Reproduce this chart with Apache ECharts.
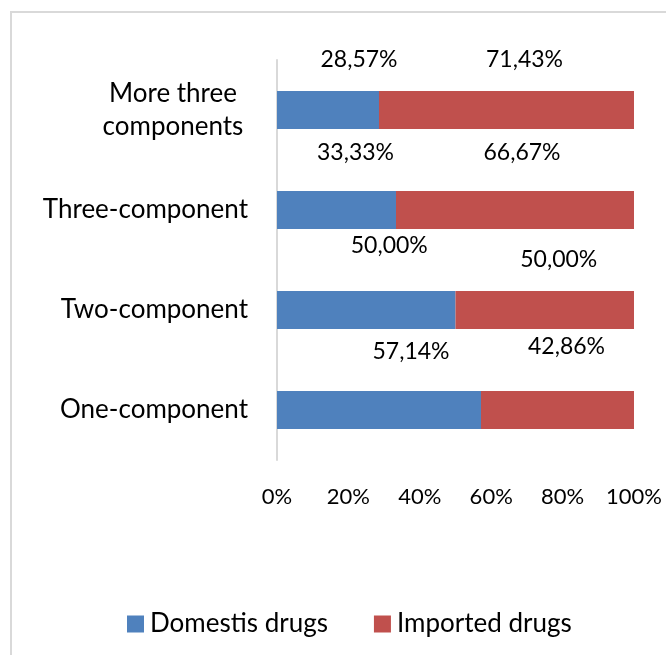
<!DOCTYPE html>
<html>
<head>
<meta charset="utf-8">
<script src="https://cdn.jsdelivr.net/npm/echarts@6/dist/echarts.min.js"></script>
<style>
  html, body { margin: 0; padding: 0; background: #fff; }
  #chart { width: 666px; height: 655px; }
</style>
</head>
<body>
<div id="chart"></div>
<script>
// Share of domestic vs imported drugs by number of components (100% stacked)
const categories = ['One-component', 'Two-component', 'Three-component', 'More three\ncomponents'];
const domestic = [57.14, 50.00, 33.33, 28.57];
const imported = [42.86, 50.00, 66.67, 71.43];
const seriesNames = ['Domestis drugs', 'Imported drugs'];
const xTicks = [0, 20, 40, 60, 80, 100];

// label placement relative to each segment's centre, [dx, dy] in px
const domesticLabelShift = [[32, -58], [23, -64], [19, -57], [31, -50]];
const importedLabelShift = [[9, -63], [14, -50], [7, -57], [18, -50]];

const FONT = 'Lato';
const fmt = v => v.toFixed(2).replace('.', ',') + '%';

function buildData(values, shifts) {
  return values.map((v, i) => ({
    value: v,
    label: { offset: shifts[i] }
  }));
}

const chart = echarts.init(document.getElementById('chart'), null, { renderer: 'canvas' });

chart.setOption({
  animation: false,
  backgroundColor: '#fff',
  textStyle: { fontFamily: FONT },
  graphic: [
    { type: 'line', shape: { x1: 10, y1: 12, x2: 666, y2: 12 }, style: { stroke: '#d9d9d9', lineWidth: 2 } },
    { type: 'line', shape: { x1: 11, y1: 12, x2: 11, y2: 655 }, style: { stroke: '#d9d9d9', lineWidth: 2 } }
  ],
  grid: { left: 277, right: 32, top: 60, bottom: 195, containLabel: false },
  legend: {
    bottom: 13,
    left: 122,
    itemWidth: 17,
    itemHeight: 17,
    itemGap: 46,
    icon: 'rect',
    textStyle: { fontFamily: FONT, fontSize: 26, color: '#000', padding: [0, 0, 0, 1] },
    data: seriesNames
  },
  xAxis: {
    type: 'value',
    min: xTicks[0],
    max: xTicks[xTicks.length - 1],
    interval: xTicks[1] - xTicks[0],
    axisLine: { show: false },
    axisTick: { show: false },
    splitLine: { show: false },
    axisLabel: {
      formatter: '{value}%',
      fontFamily: FONT,
      fontSize: 22,
      color: '#000',
      margin: 26
    }
  },
  yAxis: {
    type: 'category',
    data: categories,
    axisLine: { show: true, lineStyle: { color: '#d9d9d9', width: 2 } },
    axisTick: { show: false },
    axisLabel: {
      fontFamily: FONT,
      fontSize: 26,
      color: '#000',
      margin: 29,
      lineHeight: 33,
      formatter: v => v.indexOf('\n') >= 0
        ? v.split('\n').map(s => '{c|' + s + '}').join('\n')
        : v,
      rich: {
        c: { fontFamily: FONT, fontSize: 26, color: '#000', width: 150, align: 'center', lineHeight: 33 }
      }
    }
  },
  series: [
    {
      name: seriesNames[0],
      type: 'bar',
      stack: 'total',
      barWidth: 38,
      itemStyle: { color: '#4f81bd' },
      label: {
        show: true,
        position: 'inside',
        color: '#000',
        fontFamily: FONT,
        fontSize: 23,
        formatter: p => fmt(p.value)
      },
      data: buildData(domestic, domesticLabelShift)
    },
    {
      name: seriesNames[1],
      type: 'bar',
      stack: 'total',
      barWidth: 38,
      itemStyle: { color: '#c0504d' },
      label: {
        show: true,
        position: 'inside',
        color: '#000',
        fontFamily: FONT,
        fontSize: 23,
        formatter: p => fmt(p.value)
      },
      data: buildData(imported, importedLabelShift)
    }
  ]
});
</script>
</body>
</html>
